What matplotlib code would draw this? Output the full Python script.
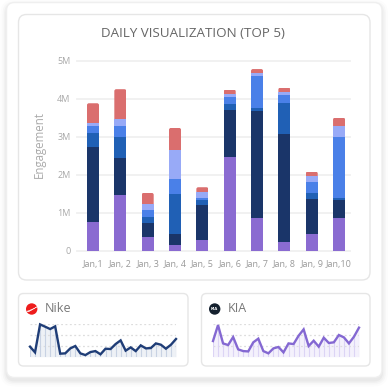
#!/usr/bin/env python3
# -*- coding: utf-8 -*-
import matplotlib
matplotlib.use("Agg")
import matplotlib.pyplot as plt
from matplotlib.patches import FancyBboxPatch, Circle, PathPatch
from matplotlib.path import Path
import numpy as np

#---------------------------------------------------------------------------------------------------
# data
days = ["Jan,1", "Jan, 2", "Jan, 3", "Jan, 4", "Jan, 5", "Jan, 6", "Jan, 7", "Jan, 8", "Jan, 9", "Jan,10"]
y_ticks = [0, 1e6, 2e6, 3e6, 4e6, 5e6]
y_labels = ["0", "1M", "2M", "3M", "4M", "5M"]

purple_vals = [0.76e6, 1.46e6, 0.35e6, 0.15e6, 0.27e6, 2.47e6, 0.85e6, 0.23e6, 0.44e6, 0.85e6]
navy_vals = [1.98e6, 0.99e6, 0.37e6, 0.29e6, 0.93e6, 1.23e6, 2.83e6, 2.84e6, 0.92e6, 0.48e6]
dark_vals = [0.35e6, 0.55e6, 0.18e6, 1.04e6, 0.13e6, 0.15e6, 0.07e6, 0.83e6, 0.17e6, 0.06e6]
blue_vals = [0.19e6, 0.28e6, 0.17e6, 0.41e6, 0.06e6, 0.20e6, 0.86e6, 0.20e6, 0.27e6, 1.60e6]
light_vals = [0.07e6, 0.18e6, 0.16e6, 0.76e6, 0.15e6, 0.07e6, 0.06e6, 0.08e6, 0.17e6, 0.29e6]
red_vals = [0.53e6, 0.79e6, 0.29e6, 0.58e6, 0.13e6, 0.12e6, 0.11e6, 0.11e6, 0.11e6, 0.22e6]

nike_vals = [0.93, 0.40, 2.99, 2.78, 2.56, 2.81, 0.28, 0.31, 0.77, 0.99,
             0.31, 0.15, 0.43, 0.52, 0.22, 0.74, 0.71, 1.17, 1.51, 0.56,
             0.86, 0.52, 1.05, 0.77, 0.80, 1.23, 1.11, 0.74, 1.11, 1.64]
kia_vals = [1.45, 2.93, 1.23, 1.08, 1.82, 0.68, 0.52, 0.49, 1.33, 1.67,
            0.52, 0.31, 0.77, 0.90, 0.40, 1.23, 1.17, 1.94, 2.53, 0.99,
            1.48, 0.93, 1.76, 1.27, 1.33, 2.01, 1.79, 1.23, 1.85, 2.69]

#---------------------------------------------------------------------------------------------------
# styles
plt.rcParams["font.family"] = ["Open Sans", "DejaVu Sans"]
segments = [purple_vals, navy_vals, dark_vals, blue_vals, light_vals, red_vals]
seg_colors = ["#8a6bd1", "#1a3569", "#2060b5", "#4a80e8", "#98aaf7", "#da6e6e"]
W, H = 389, 389

fig = plt.figure(figsize=(W / 100, H / 100), dpi=100, facecolor="white")


def ax_px(x0, y0, x1, y1):
    # axes placed by pixel box, y counted from the top
    return fig.add_axes([x0 / W, 1 - y1 / H, (x1 - x0) / W, (y1 - y0) / H])


def card(x0, y0, x1, y1, r, edge, lw=1.0):
    box = FancyBboxPatch((x0, y0), x1 - x0, y1 - y0, boxstyle="round,pad=0,rounding_size=%g" % r,
                         fc="white", ec=edge, lw=lw)
    bg.add_patch(box)


#---------------------------------------------------------------------------------------------------
# background: cards, shadow and icons
bg = ax_px(0, 0, W, H)
bg.set_xlim(0, W)
bg.set_ylim(H, 0)
bg.axis("off")

for grow, alpha in zip([6, 4, 2.5, 1], [0.012, 0.018, 0.022, 0.03]):
    bg.add_patch(FancyBboxPatch((6.5 - grow, 2.5 - grow + 3), 375.5 + 2 * grow, 375 + 2 * grow,
                                boxstyle="round,pad=0,rounding_size=%g" % (8 + grow),
                                fc="black", ec="none", alpha=alpha))
card(6.5, 2.5, 382, 377.5, 8, "#efefef")
card(18.5, 14.5, 370, 280, 8, "#e6e6e6")
card(18.5, 293.5, 188, 366, 5, "#e6e6e6")
card(201.5, 293.5, 370, 366, 5, "#e6e6e6")

bg.add_patch(Circle((31.7, 309), 5.7, fc="#ee1c1c", ec="none"))
swoosh = Path([(26.8, 311.2), (30.5, 310.5), (37, 306.8), (31.5, 310.4), (28.5, 311.8), (26.8, 311.2)],
              [Path.MOVETO, Path.CURVE3, Path.CURVE3, Path.CURVE3, Path.CURVE3, Path.LINETO])
bg.add_patch(PathPatch(swoosh, fc="white", ec="white", lw=0.3))
bg.add_patch(Circle((214.7, 309), 5.7, fc="#14202e", ec="none"))
bg.text(214.7, 309.2, "KIA", color="white", fontsize=3.2, fontweight="bold", ha="center", va="center")

bg.text(193, 33, "DAILY VISUALIZATION (TOP 5)", color="#666666", fontsize=9.6, ha="center", va="center")
bg.text(39.5, 144, "Engagement", color="#aaaaaa", fontsize=8.3, rotation=90, ha="center", va="center")
bg.text(44.5, 309, "Nike", color="#777777", fontsize=9, ha="left", va="center")
bg.text(227.5, 309, "KIA", color="#777777", fontsize=9, ha="left", va="center")

#---------------------------------------------------------------------------------------------------
# main stacked bars
ax = ax_px(76.7, 60.7, 350, 250.7)
ax.patch.set_alpha(0)
pos = np.arange(len(days))
bottom = np.zeros(len(days))
for vals, col in zip(segments, seg_colors):
    bars = ax.bar(pos, vals, 0.44, bottom=bottom, color=col, zorder=3)
    bottom = bottom + np.array(vals)

# top of each stack has small round corners
for i, bar in enumerate(bars):
    clip = FancyBboxPatch((pos[i] - 0.22, 0), 0.44, bottom[i],
                          boxstyle="round,pad=0,rounding_size=0.07", mutation_aspect=720000,
                          transform=ax.transData)
    bar.set_clip_path(clip)

ax.set_xlim(-0.596, 9.4)
ax.set_ylim(0, 5e6)
ax.set_xticks(pos)
ax.set_xticklabels(days)
ax.set_yticks(y_ticks)
ax.set_yticklabels(y_labels)
ax.tick_params(axis="both", length=0, labelsize=6.5, labelcolor="#a8a8a8")
ax.tick_params(axis="x", pad=7, labelcolor="#999999")
ax.tick_params(axis="y", pad=4.5)
ax.grid(axis="y", color="#f0f0f0", lw=1.3, zorder=0)
for s in ax.spines.values():
    s.set_visible(False)
for gl in ax.get_ygridlines():
    gl.set_clip_on(False)


#---------------------------------------------------------------------------------------------------
# small sparkline cards
def spark(box, vals, line_col, fill_col, drop_col):
    sp = ax_px(*box)
    sp.patch.set_alpha(0)
    x = np.arange(len(vals))
    sp.fill_between(x, 0, vals, color=fill_col, lw=0, zorder=1)
    sp.vlines(x, 0, vals, color=drop_col, lw=0.8, zorder=2)
    sp.plot(x, vals, color=line_col, lw=1.7, zorder=4, solid_joinstyle="miter")
    sp.set_xlim(0, len(vals) - 1)
    sp.set_ylim(0, 3)
    sp.set_yticks([1, 2, 3])
    sp.set_xticks([])
    sp.tick_params(axis="y", length=0, labelleft=False)
    sp.grid(axis="y", color="#dddddd", lw=0.9, ls=(0, (1.5, 2)), zorder=3)
    for s in sp.spines.values():
        s.set_visible(False)
    for art in sp.lines:
        art.set_clip_on(False)


spark((30, 324.3, 176, 356.7), nike_vals, "#1f3d77", "#eef1f6", "#c8d2e3")
spark((213, 324.3, 359, 356.7), kia_vals, "#8468d2", "#f4f1fc", "#dcd4f5")

fig.savefig("out.png", dpi=100)
